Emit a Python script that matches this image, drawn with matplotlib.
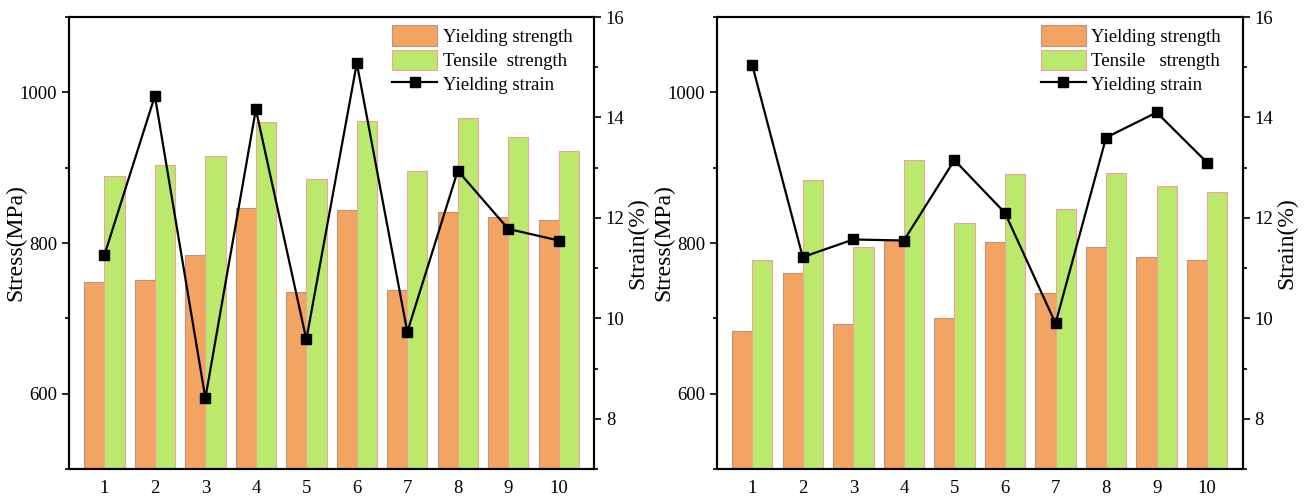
import matplotlib
matplotlib.use("Agg")
from matplotlib import pyplot as plt
from matplotlib.ticker import MultipleLocator
import numpy as np

plt.rcParams['font.family'] = ['Liberation Serif', 'DejaVu Serif']

samples = list(range(1, 11))

# left group
ys_left = [748, 751, 784, 846, 735, 844, 738, 841, 835, 830]
ts_left = [889, 903, 915, 960, 885, 962, 895, 966, 941, 922]
strain_left = [11.26, 14.43, 8.41, 14.16, 9.58, 15.08, 9.73, 12.94, 11.78, 11.55]

# right group
ys_right = [683, 760, 692, 804, 700, 802, 733, 795, 781, 778]
ts_right = [777, 884, 795, 910, 826, 891, 845, 893, 876, 868]
strain_right = [15.05, 11.22, 11.57, 11.55, 13.15, 12.10, 9.90, 13.60, 14.10, 13.10]

ORANGE = '#F4A462'
GREEN = '#BAE96C'


def draw_panel(ax, ys, ts, strain, labels):
    x = np.array(samples)
    w = 0.4
    b1 = ax.bar(x - w / 2, ys, w, color=ORANGE, edgecolor='#B8957F', linewidth=0.8)
    b2 = ax.bar(x + w / 2, ts, w, color=GREEN, edgecolor='#F2A0A0', linewidth=0.8)
    ax.set_xlim(0.3, 10.7)
    ax.set_ylim(500, 1100)
    ax.set_xticks(samples)
    ax.yaxis.set_major_locator(MultipleLocator(200))
    ax.yaxis.set_minor_locator(MultipleLocator(100))
    ax.set_ylabel('Stress(MPa)', fontsize=17, labelpad=-5)
    ax.tick_params(axis='both', which='major', labelsize=13.5, length=5, width=1.2)
    ax.tick_params(axis='y', which='minor', length=3, width=1.2)
    ax.tick_params(axis='x', length=0, pad=8)
    for sp in ax.spines.values():
        sp.set_linewidth(1.5)

    ax2 = ax.twinx()
    l1, = ax2.plot(x, strain, color='black', lw=1.6, marker='s', ms=7.5)
    ax2.set_ylim(7, 16)
    ax2.yaxis.set_major_locator(MultipleLocator(2))
    ax2.yaxis.set_minor_locator(MultipleLocator(1))
    ax2.set_ylabel('Strain(%)', fontsize=17, labelpad=2)
    ax2.tick_params(axis='y', which='major', labelsize=13.5, length=5, width=1.2)
    ax2.tick_params(axis='y', which='minor', length=3, width=1.2)
    for sp in ax2.spines.values():
        sp.set_linewidth(1.5)

    ax2.legend([b1, b2, l1], labels, loc='upper right', frameon=False,
               fontsize=13.5, handlelength=2.4, handleheight=1.3,
               labelspacing=0.2, handletextpad=0.3,
               borderaxespad=0.05, bbox_to_anchor=(0.975, 1.0))


fig = plt.figure(figsize=(13.08, 4.99), dpi=100)
ax_l = fig.add_axes([0.0528, 0.0601, 0.4014, 0.9058])
ax_r = fig.add_axes([0.548, 0.0601, 0.402, 0.9058])

draw_panel(ax_l, ys_left, ts_left, strain_left,
           ['Yielding strength', 'Tensile  strength', 'Yielding strain'])
draw_panel(ax_r, ys_right, ts_right, strain_right,
           ['Yielding strength', 'Tensile   strength', 'Yielding strain'])

fig.savefig('out.png', dpi=100)
